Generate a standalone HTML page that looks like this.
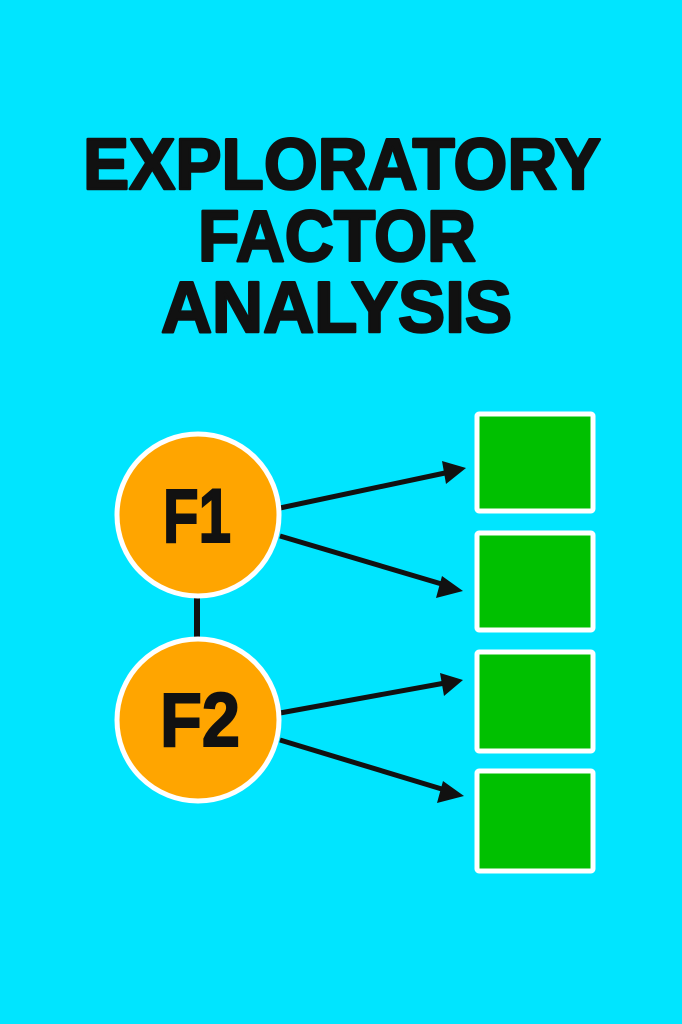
<!DOCTYPE html>
<html><head><meta charset="utf-8"><style>
html,body{margin:0;padding:0;background:#00E5FF;}
svg{display:block}
</style></head><body>
<svg width="682" height="1024" viewBox="0 0 682 1024" xmlns="http://www.w3.org/2000/svg">
<rect width="682" height="1024" fill="#00E5FF"/>
<g font-family="Liberation Sans, Arial, sans-serif" font-weight="bold" fill="#111" stroke="#111" stroke-width="2.5" stroke-linejoin="round">
<text x="83" y="189" font-size="72" textLength="518" lengthAdjust="spacingAndGlyphs">EXPLORATORY</text>
<text x="198" y="261" font-size="72" textLength="278" lengthAdjust="spacingAndGlyphs">FACTOR</text>
<text x="161" y="332" font-size="72" textLength="351" lengthAdjust="spacingAndGlyphs">ANALYSIS</text>
</g>
<defs><marker id="a" markerWidth="8" markerHeight="8" refX="7" refY="4" orient="auto" markerUnits="userSpaceOnUse" viewBox="0 0 8 8"><path d="M0,0 L8,4 L0,8 z" fill="#111"/></marker></defs>
<g stroke="#111" stroke-width="5" fill="none">
<line x1="197" y1="595" x2="197" y2="640" stroke-width="6"/>
<line x1="280" y1="508" x2="445" y2="473"/>
<line x1="280" y1="536" x2="445" y2="585"/>
<line x1="280" y1="713" x2="445" y2="683"/>
<line x1="280" y1="740" x2="445" y2="790"/>
</g>
<g fill="#111">
<polygon points="466,468 442,461 446,484"/>
<polygon points="463,591 442,576 436,598"/>
<polygon points="463,680 440,673 444,696"/>
<polygon points="464,796 443,781 437,803"/>
</g>
<g fill="#FFA500" stroke="#fff" stroke-width="5">
<circle cx="198" cy="515" r="81"/>
<circle cx="198" cy="720" r="81"/>
</g>
<g font-family="Liberation Sans, Arial, sans-serif" font-weight="bold" fill="#111" stroke="#111" stroke-width="2" font-size="76">
<text x="163" y="542" textLength="68" lengthAdjust="spacingAndGlyphs">F1</text>
<text x="160" y="746" textLength="80" lengthAdjust="spacingAndGlyphs">F2</text>
</g>
<g fill="#00C000" stroke="#fff" stroke-width="5">
<rect x="477" y="414" width="116" height="97" rx="2"/>
<rect x="477" y="533" width="116" height="97" rx="2"/>
<rect x="477" y="652" width="116" height="99" rx="2"/>
<rect x="477" y="771" width="116" height="100" rx="2"/>
</g>
</svg>
</body></html>
